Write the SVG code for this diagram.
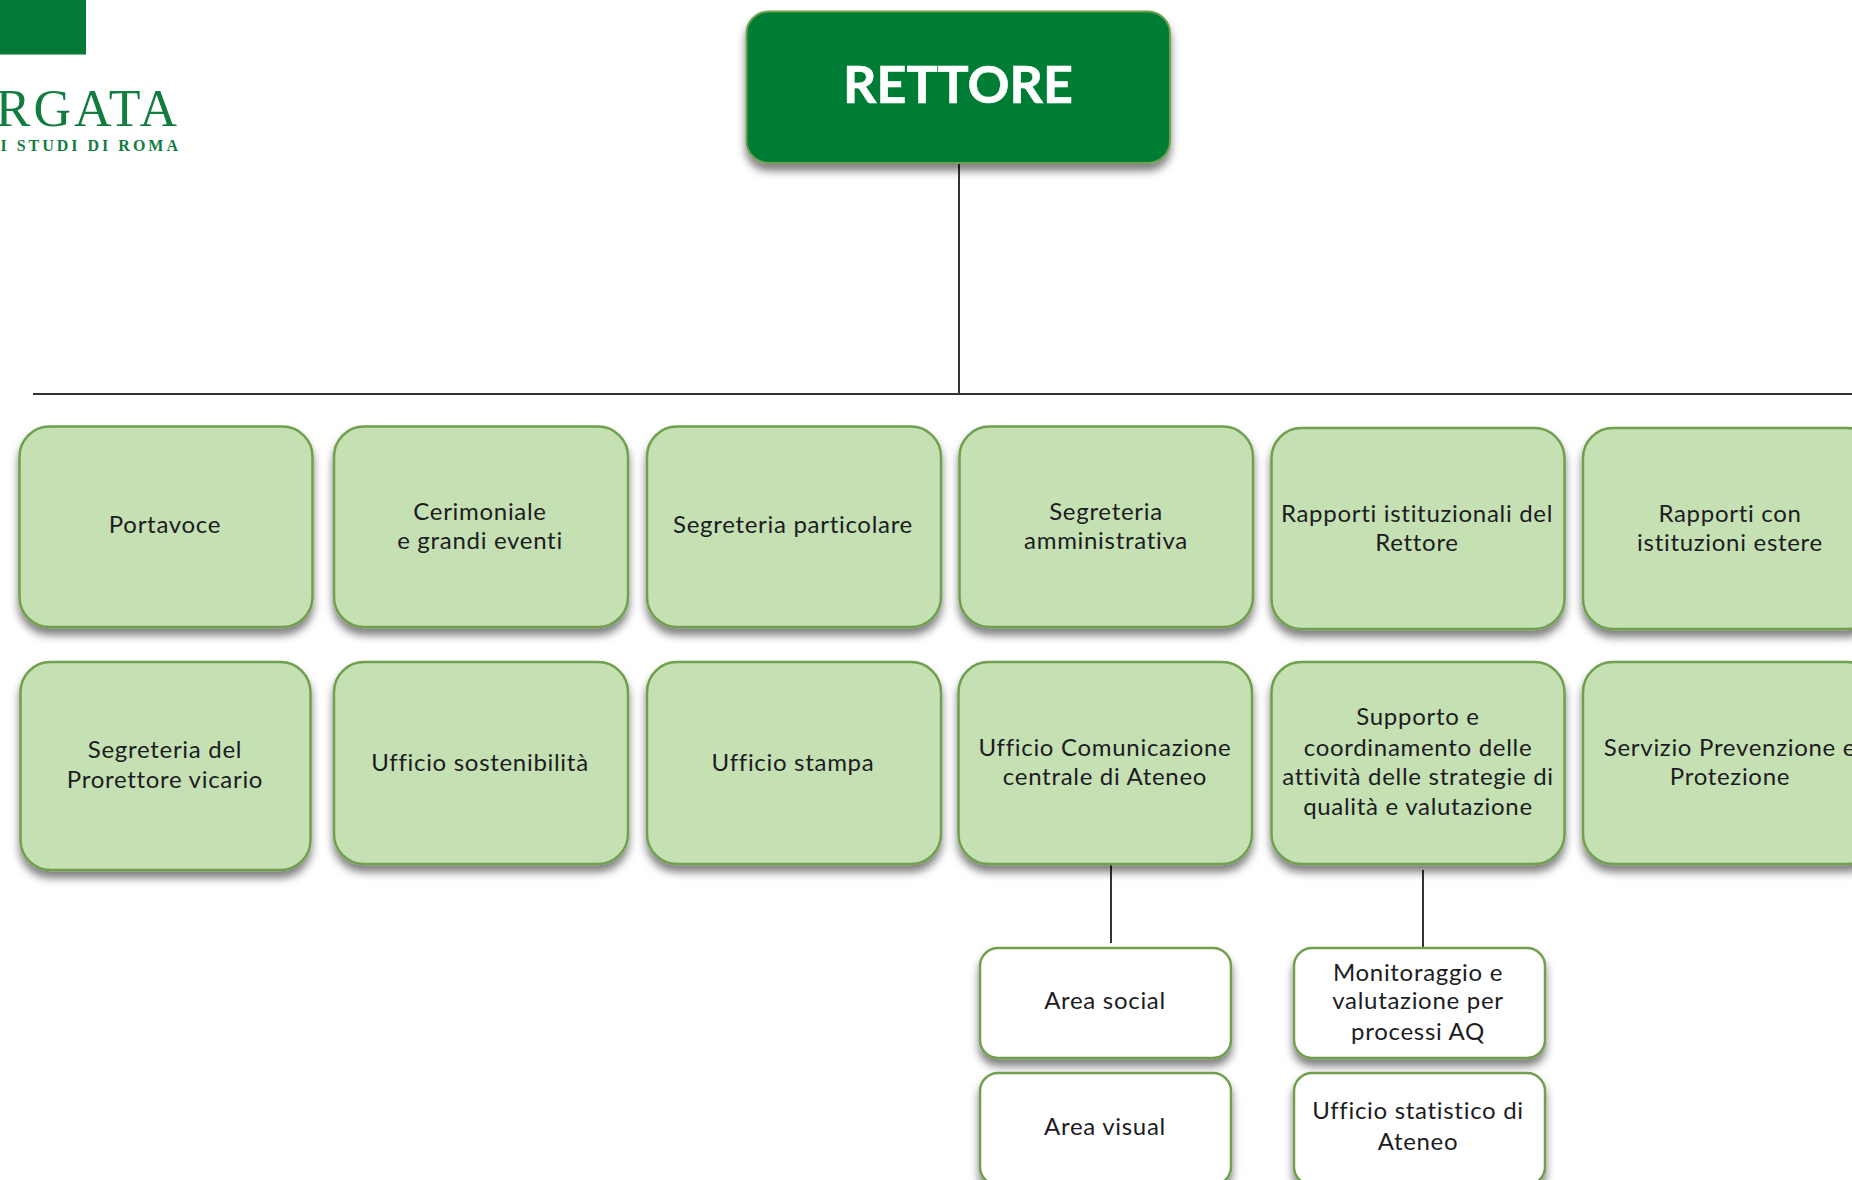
<svg xmlns="http://www.w3.org/2000/svg" width="1852" height="1180" viewBox="0 0 1852 1180">
<style>
.b{fill:#c5e0b3;stroke:#6f9f4d;stroke-width:2.5;filter:url(#s)}
.w{fill:#fff;stroke:#6f9f4d;stroke-width:2.5;filter:url(#s)}
.t{font-family:Lato,"Open Sans",sans-serif;font-size:24px;letter-spacing:.7px;fill:#1c1c22;text-anchor:middle}
.c{stroke:#333;stroke-width:2;fill:none}
</style>
<defs><filter id="s" x="-10%" y="-10%" width="120%" height="125%"><feDropShadow dx="0" dy="7" stdDeviation="4" flood-color="#000" flood-opacity=".5"/></filter></defs>
<rect width="1852" height="1180" fill="#fff"/>
<g id="logo">
<rect x="0" y="0" width="86" height="54.500" fill="#057a36"/>
<text x="180" y="126" text-anchor="end" font-family="Liberation Serif,serif" font-size="52" letter-spacing="3" fill="#137d3f">RGATA</text>
<text x="181" y="151" text-anchor="end" font-family="Liberation Serif,serif" font-weight="bold" font-size="16" letter-spacing="3" fill="#137d3f">I STUDI DI ROMA</text>
</g>
<g id="connectors">
<path class="c" d="M959 163V394M33 394H1852M1111 864V943M1423 870V948"/>
</g>
<g id="rettore"><rect x="746.500" y="11.500" width="423.500" height="151.500" rx="22" fill="#007d36" stroke="#6f9f4d" stroke-width="2" filter="url(#s)"/><text x="958" y="103" font-family="Lato,sans-serif" font-weight="bold" font-size="52" fill="#fff" text-anchor="middle" stroke="#fff" stroke-width=".6">RETTORE</text></g>
<g id="portavoce"><rect class="b" x="19.500" y="426.500" width="293" height="200.500" rx="30"/><text class="t" x="165" y="533">Portavoce</text></g>
<g id="cerimoniale"><rect class="b" x="334" y="426.500" width="294" height="200.500" rx="30"/><text class="t" x="480" y="520">Cerimoniale</text><text class="t" x="480" y="549">e grandi eventi</text></g>
<g id="segreteria-particolare"><rect class="b" x="647" y="426.500" width="294" height="200.500" rx="30"/><text class="t" x="793" y="533">Segreteria particolare</text></g>
<g id="segreteria-amministrativa"><rect class="b" x="959.500" y="426.500" width="293.500" height="200.500" rx="30"/><text class="t" x="1106" y="520">Segreteria</text><text class="t" x="1106" y="549">amministrativa</text></g>
<g id="rapporti-istituzionali"><rect class="b" x="1271.500" y="428" width="293" height="201" rx="30"/><text class="t" x="1417" y="522">Rapporti istituzionali del</text><text class="t" x="1417" y="551">Rettore</text></g>
<g id="rapporti-estere"><rect class="b" x="1583" y="428" width="294" height="201" rx="30"/><text class="t" x="1730" y="522">Rapporti con</text><text class="t" x="1730" y="551">istituzioni estere</text></g>
<g id="segreteria-prorettore"><rect class="b" x="20.500" y="662" width="290" height="208" rx="30"/><text class="t" x="165" y="758">Segreteria del</text><text class="t" x="165" y="788">Prorettore vicario</text></g>
<g id="sostenibilita"><rect class="b" x="334" y="662" width="294" height="202" rx="30"/><text class="t" x="480" y="771">Ufficio sostenibilità</text></g>
<g id="stampa"><rect class="b" x="647" y="662" width="294" height="202" rx="30"/><text class="t" x="793" y="771">Ufficio stampa</text></g>
<g id="comunicazione"><rect class="b" x="958.500" y="662" width="293.500" height="202" rx="30"/><text class="t" x="1105" y="756">Ufficio Comunicazione</text><text class="t" x="1105" y="785">centrale di Ateneo</text></g>
<g id="supporto"><rect class="b" x="1271.500" y="662" width="293" height="202" rx="30"/><text class="t" x="1418" y="725">Supporto e</text><text class="t" x="1418" y="756">coordinamento delle</text><text class="t" x="1418" y="785">attività delle strategie di</text><text class="t" x="1418" y="815">qualità e valutazione</text></g>
<g id="prevenzione"><rect class="b" x="1583" y="662" width="294" height="202" rx="30"/><text class="t" x="1730" y="756">Servizio Prevenzione e</text><text class="t" x="1730" y="785">Protezione</text></g>
<g id="area-social"><rect class="w" x="980" y="948" width="251" height="110" rx="18"/><text class="t" x="1105" y="1009">Area social</text></g>
<g id="area-visual"><rect class="w" x="980" y="1073" width="251" height="112" rx="18"/><text class="t" x="1105" y="1135">Area visual</text></g>
<g id="monitoraggio"><rect class="w" x="1294" y="948" width="251" height="110" rx="18"/><text class="t" x="1418" y="981">Monitoraggio e</text><text class="t" x="1418" y="1009">valutazione per</text><text class="t" x="1418" y="1040">processi AQ</text></g>
<g id="statistico"><rect class="w" x="1294" y="1073" width="251" height="112" rx="18"/><text class="t" x="1418" y="1119">Ufficio statistico di</text><text class="t" x="1418" y="1150">Ateneo</text></g>
</svg>
